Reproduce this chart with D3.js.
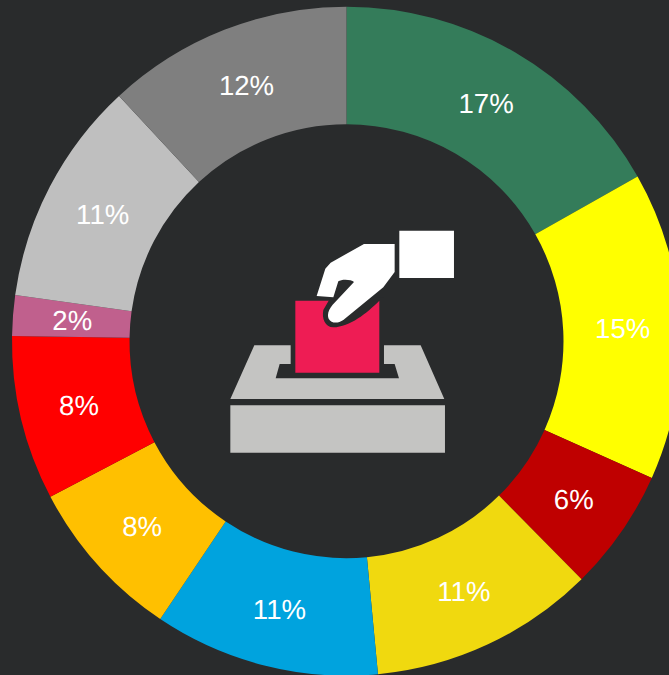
<!DOCTYPE html>
<html><head><meta charset="utf-8">
<script src="https://cdn.jsdelivr.net/npm/d3@7"></script>
<style>html,body{margin:0;padding:0;background:#292b2c;overflow:hidden}svg{display:block}</style>
</head><body><svg id="c" width="669" height="675"></svg>
<script>
const sliceValues = [16.8, 14.9, 5.9, 10.9, 10.9, 7.9, 7.95, 1.95, 10.9, 11.9];
const sliceLabels = ["17%","15%","6%","11%","11%","8%","8%","2%","11%","12%"];
const sliceColors = ["#347c5a","#ffff00","#bf0000","#f0d90f","#00a3de","#ffc000","#ff0000","#c0608d","#bfbfbf","#7f7f7f"];

const svg = d3.select("#c");
const g = svg.append("g").attr("transform","translate(346.5,341.2)");
const pie = d3.pie().sort(null).value(d=>d)(sliceValues);
const arc = d3.arc().innerRadius(217).outerRadius(334.5);
g.selectAll("path.s").data(pie).join("path").attr("class","s")
  .attr("d",arc).attr("fill",(d,i)=>sliceColors[i]);
g.selectAll("text").data(pie).join("text")
  .attr("transform",d=>`translate(${arc.centroid(d)})`)
  .attr("text-anchor","middle").attr("dx",0.7).attr("dy","0.37em")
  .attr("text-rendering","geometricPrecision")
  .attr("font-family","'Liberation Sans',Arial,sans-serif").attr("font-size",27.6)
  .attr("fill","#fff").text((d,i)=>sliceLabels[i]);

// ballot-box icon (decoration)
const icon = svg.append("g").attr("transform","translate(210,210) scale(0.3333)");
icon.append("path").attr("fill","#c4c4c2").attr("d","M61,728V586H705V728Z");
icon.append("path").attr("fill","#c4c4c2").attr("d","M61,567L133,406H242V462H209L197,505H567L554,462H522V406H632L703,567Z");
icon.append("path").attr("fill","#ee1c54").attr("d","M256,272H508V488H256Z");
icon.append("path").attr("fill","#fff").attr("d","M568,62H732V204H568Z");
icon.append("path").attr("fill","#292b2c").attr("d","M340,300L362,262L520,262L508,272C470,310 420,350 370,352C345,352 335,325 340,300Z");
icon.append("path").attr("fill","#fff").attr("d","M320,258L346,176L362,158L462,102H554V186L520,232L400,330C385,340 365,342 356,326C350,312 358,296 368,284L432,216C425,208 395,206 385,214L370,262Z");
</script></body></html>
